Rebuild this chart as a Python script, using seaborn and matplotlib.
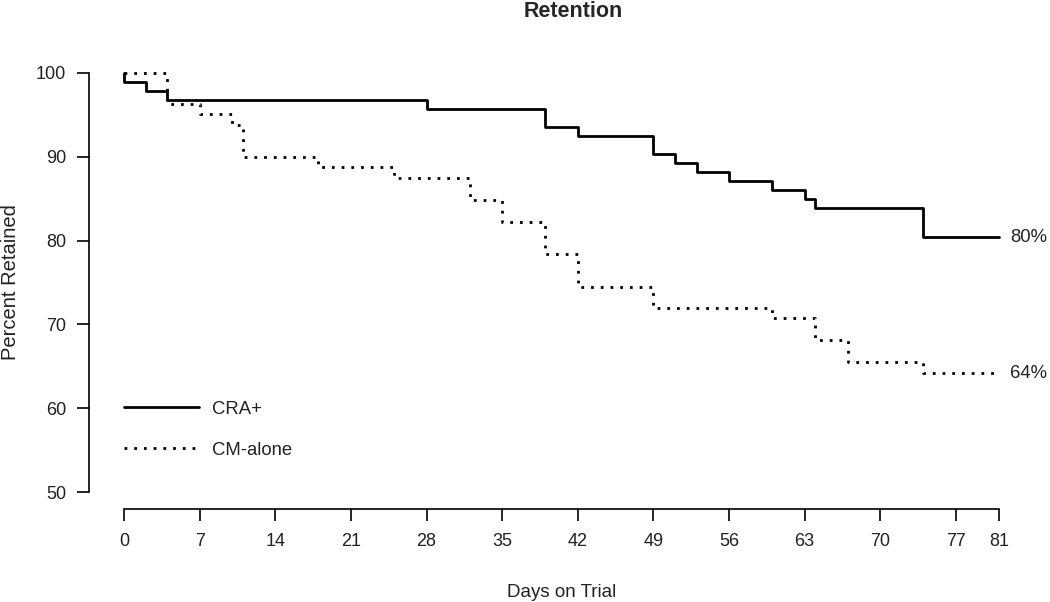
import pandas as pd
import matplotlib
matplotlib.use("Agg")
import matplotlib.pyplot as plt
import seaborn as sns

# Kaplan-Meier style retention
cra_days = [0, 0, 2, 4, 28, 39, 42, 49, 51, 53, 56, 60, 63, 64, 74, 81]
cra_pct = [100, 98.9, 97.8, 96.8, 95.7, 93.5, 92.5, 90.3, 89.2, 88.2, 87.1, 86.0, 84.9, 83.9, 80.4, 80.4]

cm_days = [0, 4, 7, 10, 11, 18, 25, 32, 35, 39, 42, 49, 60, 64, 67, 74, 81]
cm_pct = [100, 96.3, 95.1, 93.8, 90.0, 88.8, 87.5, 84.8, 82.2, 78.4, 74.5, 72.0, 70.8, 68.1, 65.5, 64.2, 64.2]

x_ticks = [0, 7, 14, 21, 28, 35, 42, 49, 56, 63, 70, 77, 81]
y_ticks = [50, 60, 70, 80, 90, 100]
end_labels = ["80%", "64%"]

sns.set_style("ticks")
plt.rcParams["font.family"] = ["Liberation Sans", "DejaVu Sans"]

cra = pd.DataFrame({"day": cra_days, "pct": cra_pct})
cm = pd.DataFrame({"day": cm_days, "pct": cm_pct})

fig = plt.figure(figsize=(10.5, 6.02), dpi=100)
ax = fig.add_axes([0.0848, 0.1545, 0.9, 0.7525])

sns.lineplot(data=cra, x="day", y="pct", ax=ax, estimator=None, sort=False,
             drawstyle="steps-post", color="black", linewidth=2, label="CRA+")
sns.lineplot(data=cm, x="day", y="pct", ax=ax, estimator=None, sort=False,
             drawstyle="steps-post", color="black", linewidth=2,
             dashes=False, label="CM-alone")
ax.lines[1].set_dashes((1, 2.5))

ax.set_xlim(-3.24, 84.24)
ax.set_ylim(48, 102)
ax.set_xticks(x_ticks)
ax.set_yticks(y_ticks)
ax.tick_params(axis="both", direction="out", length=8.5, width=1.2,
               color="black", labelsize=13, labelcolor="#222222")
ax.tick_params(axis="x", pad=9)
ax.tick_params(axis="y", pad=8)

for s in ["top", "right"]:
    ax.spines[s].set_visible(False)
ax.spines["left"].set_bounds(50, 100)
ax.spines["bottom"].set_bounds(0, 81)
for s in ["left", "bottom"]:
    ax.spines[s].set_linewidth(1.2)
    ax.spines[s].set_color("black")

ax.set_xlabel("Days on Trial", fontsize=13.5, color="#222222")
ax.set_ylabel("Percent Retained", fontsize=14.5, color="#222222")
ax.xaxis.set_label_coords(0.5, -0.165)
ax.yaxis.set_label_coords(-0.073, 0.5)
fig.suptitle("Retention", fontsize=15.5, fontweight="bold", x=0.546, y=0.998)

ax.text(82, cra_pct[-1], end_labels[0], fontsize=13.3, color="#222222",
        va="center", ha="left", clip_on=False)
ax.text(82, cm_pct[-1], end_labels[1], fontsize=13.3, color="#222222",
        va="center", ha="left", clip_on=False)

leg = ax.legend(loc="center left", bbox_to_anchor=(0.037, 0.175), frameon=False,
                fontsize=13.3, handlelength=4.05, handletextpad=0.7,
                labelspacing=1.28, borderpad=0, borderaxespad=0)
for t in leg.get_texts():
    t.set_color("#222222")

fig.savefig("out.png", dpi=100)
